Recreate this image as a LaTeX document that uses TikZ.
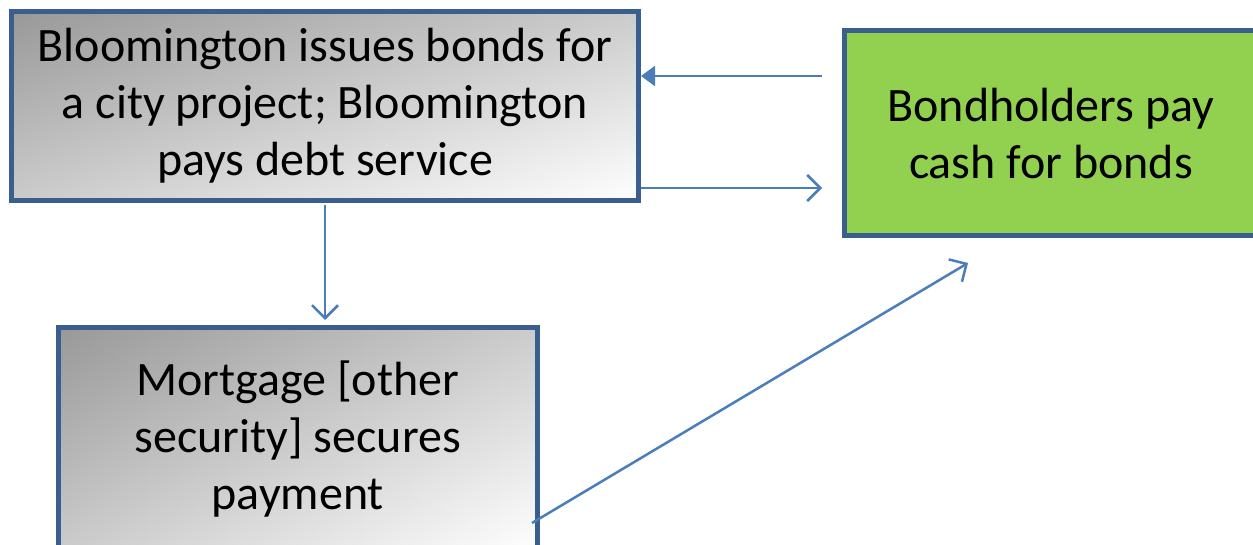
\documentclass[tikz,border=0pt]{standalone}
\usepackage{fontspec}
\setmainfont{Carlito}
\usetikzlibrary{arrows.meta}
\definecolor{boxborder}{HTML}{3A5F8E}
\definecolor{arrowblue}{HTML}{4A7EBB}
\definecolor{greenfill}{HTML}{92D050}
\colorlet{graydark}{black!40}
\begin{document}
\begin{tikzpicture}[x=1pt,y=1pt,
  boxbase/.style={draw=boxborder, line width=5pt, inner sep=0pt, align=center, text=black,
    font=\fontsize{48}{57}\selectfont},
  graybox/.style={boxbase, top color=graydark, bottom color=white,
    path picture={\shade[left color=graydark, right color=white, opacity=0.5]
      (path picture bounding box.south west) rectangle (path picture bounding box.north east);}},
  greenbox/.style={boxbase, fill=greenfill},
  conn/.style={draw=arrowblue, line width=2.5pt},
  openhead/.style={-{Straight Barb[length=13pt,width=26pt,line width=2.5pt]}},
  fillhead/.style={-{Triangle[length=14pt,width=20pt]}}]
\useasboundingbox (0,0) rectangle (1253,-545);
\clip (0,0) rectangle (1253,-545);
\node[graybox, minimum width=627pt, minimum height=189pt] (a) at (325,-106)
  {Bloomington issues bonds for\\a city project; Bloomington\\pays debt service};
\node[greenbox, minimum width=414pt, minimum height=205pt] (b) at (1051,-133.5)
  {Bondholders pay\\cash for bonds};
\node[graybox, minimum width=478.5pt, minimum height=223pt] (c) at (297.75,-439)
  {Mortgage [other\\security] secures\\payment};
\coordinate (a1) at (641,-76);
\coordinate (b1) at (822,-76);
\coordinate (a2) at (641,-188);
\coordinate (b2) at (822,-188);
\coordinate (c3) at (325,-320);
\coordinate (c4) at (532,-523);
\coordinate (b4) at (968,-263);
\draw[conn,fillhead] (b1) -- (a1);
\draw[conn,openhead] (a2) -- (b2);
\draw[conn,openhead] ([yshift=-2.5pt]a.south) -- (c3);
\draw[conn,openhead] (c4) -- (b4);
\end{tikzpicture}
\end{document}
